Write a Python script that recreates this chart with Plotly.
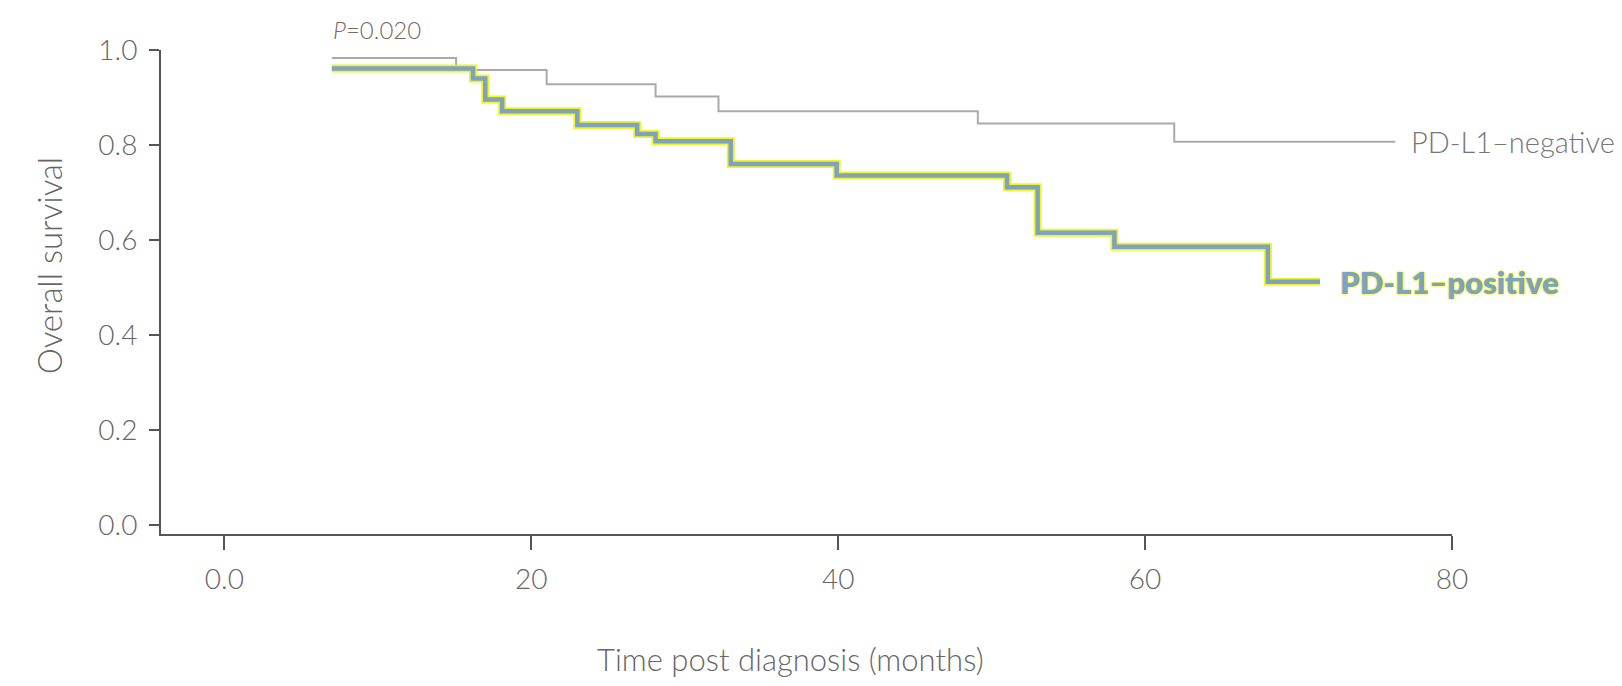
import plotly.graph_objects as go

# ---- data ----
neg_time = [7.0, 15.1, 21.0, 28.1, 32.2, 49.1, 61.9, 76.3]
neg_surv = [0.983, 0.958, 0.928, 0.902, 0.871, 0.845, 0.807, 0.807]

pos_time = [7.0, 16.2, 17.0, 18.1, 23.0, 26.9, 28.1, 33.0, 39.9, 51.0, 53.0, 58.0, 68.0, 71.4]
pos_surv = [0.961, 0.940, 0.896, 0.871, 0.842, 0.823, 0.808, 0.760, 0.736, 0.711, 0.615, 0.586, 0.512, 0.512]

x_ticks = [0, 20, 40, 60, 80]
x_ticktext = ["0.0", "20", "40", "60", "80"]
y_ticks = [0.0, 0.2, 0.4, 0.6, 0.8, 1.0]
y_ticktext = ["0.0", "0.2", "0.4", "0.6", "0.8", "1.0"]

neg_label = "PD-L1\u2013negative"
pos_label = "PD-L1\u2013positive"
p_text = "<i>P</i>=0.020"
x_title = "Time post diagnosis (months)"
y_title = "Overall survival"

FONT = "Lato"
TXT = "#666666"
AX = "#555555"
BLUE = "#7da3c3"
YEL = "#f2f200"
GRAY = "#aaaaaa"

fig = go.Figure()
fig.add_trace(go.Scatter(x=neg_time, y=neg_surv, mode="lines", line_shape="hv",
                         line=dict(color=GRAY, width=2), hoverinfo="skip", showlegend=False,
                         cliponaxis=False))
fig.add_trace(go.Scatter(x=pos_time, y=pos_surv, mode="lines", line_shape="hv",
                         line=dict(color=YEL, width=8), hoverinfo="skip", showlegend=False,
                         opacity=0.85, cliponaxis=False))
fig.add_trace(go.Scatter(x=pos_time, y=pos_surv, mode="lines", line_shape="hv",
                         line=dict(color=BLUE, width=4.5), hoverinfo="skip", showlegend=False,
                         cliponaxis=False))

annotations = [
    dict(x=neg_time[-1], y=neg_surv[-1], xref="x", yref="y", text=neg_label,
         xanchor="left", yanchor="middle", showarrow=False, xshift=14, yshift=0,
         font=dict(family=FONT, size=29, color="#777777", weight=300)),
    dict(x=pos_time[-1], y=pos_surv[-1], xref="x", yref="y", text=pos_label,
         xanchor="left", yanchor="middle", showarrow=False, xshift=18, yshift=0,
         font=dict(family=FONT, size=31, color=BLUE, weight=800,
                   shadow="0 0 2px #f2f200, 0 0 2px #f2f200, 0 0 1px #f2f200")),
    dict(x=7.0, y=1.0, xref="x", yref="y", text=p_text, xanchor="left", yanchor="middle",
         showarrow=False, xshift=-1, yshift=21,
         font=dict(family=FONT, size=24, color="#7a6a5f", weight=300)),
    dict(x=0.4876, y=-0.258, xref="paper", yref="paper", text=x_title,
         xanchor="center", yanchor="middle", showarrow=False,
         font=dict(family=FONT, size=31, color=TXT, weight=300)),
    dict(x=-0.0872, y=0.554, xref="paper", yref="paper", text=y_title, textangle=-90,
         xanchor="center", yanchor="middle", showarrow=False,
         font=dict(family=FONT, size=33, color=TXT, weight=300)),
]

fig.update_layout(
    width=1606, height=670,
    margin=dict(l=153, r=162, t=42, b=144, pad=0),
    paper_bgcolor="white", plot_bgcolor="white",
    showlegend=False,
    annotations=annotations,
    xaxis=dict(range=[-4.13, 80], tickvals=x_ticks, ticktext=x_ticktext,
               showgrid=False, zeroline=False, showline=True, linecolor=AX, linewidth=2,
               ticks="outside", ticklen=14, tickwidth=1.5, tickcolor=AX,
               ticklabelstandoff=5,
               tickfont=dict(family=FONT, size=28, color=TXT, weight=300)),
    yaxis=dict(range=[-0.019, 1.0], tickvals=y_ticks, ticktext=y_ticktext,
               showgrid=False, zeroline=False, showline=True, linecolor=AX, linewidth=2,
               ticks="outside", ticklen=10, tickwidth=1.5, tickcolor=AX,
               ticklabelstandoff=6,
               tickfont=dict(family=FONT, size=28, color=TXT, weight=300)),
)

fig.write_html("out.html")
